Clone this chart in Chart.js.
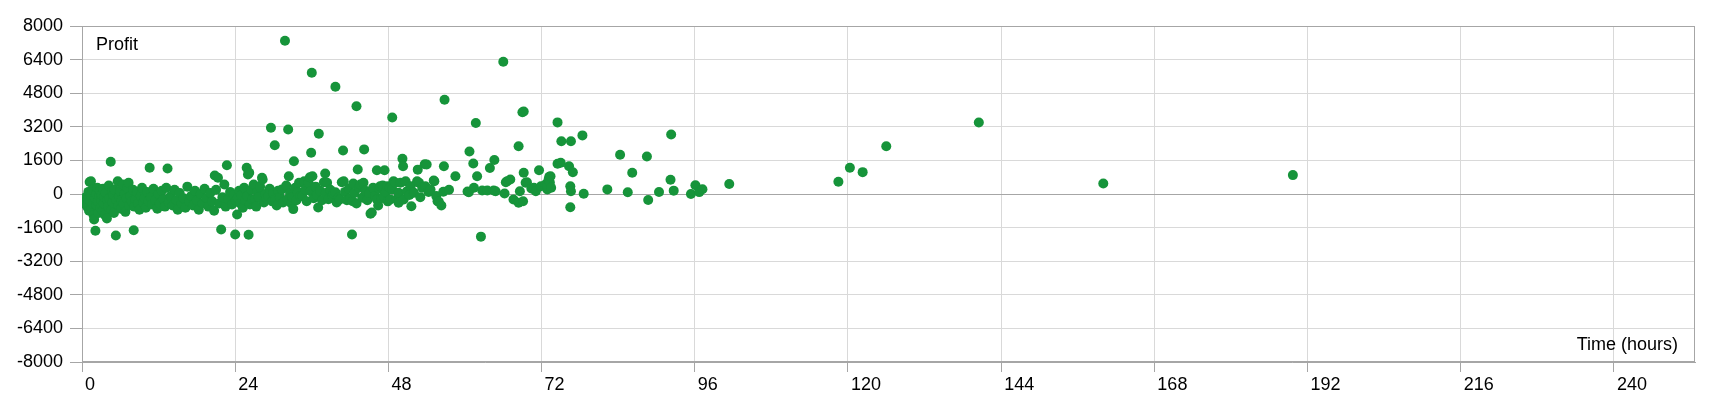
<!DOCTYPE html>
<html>
<head>
<meta charset="utf-8">
<script src="https://cdn.jsdelivr.net/npm/chart.js@4.4.0/dist/chart.umd.min.js"></script>
<style>
  html, body { margin: 0; padding: 0; background: #fff; }
  canvas { display: block; }
</style>
</head>
<body>
<canvas id="profit-chart" width="1720" height="400"></canvas>
<script>
// trades as [time in hours, profit], grouped by day
const day1 = [
  [0.2,-300],[0.4,-450],[0.5,-390],[0.6,-150],[0.8,-600],[0.9,-250],[1.0,100],[1.1,-800],[1.2,572],[1.3,-350],
  [1.4,-50],[1.4,610],[1.5,-700],[1.6,200],[1.7,-480],[1.8,-1000],[1.9,-1214],[2.0,-200],[2.1,-1750],[2.2,0],
  [2.3,-550],[2.4,300],[2.5,-350],[2.6,-900],[2.7,-100],[2.8,150],[2.9,-650],[3.0,-300],[3.1,-50],[3.2,-800],
  [3.3,250],[3.4,-450],[3.5,-150],[3.6,-1000],[3.7,50],[3.9,-1170],[4.0,-300],[4.1,-600],[4.2,400],[4.3,-200],
  [4.5,1532],[4.6,-750],[4.7,100],[4.8,-400],[4.9,-50],[5.0,-900],[5.1,200],[5.3,-1975],[5.4,-300],[5.6,610],
  [5.7,-550],[5.8,-100],[6.0,150],[6.1,-700],[6.2,-300],[6.4,450],[6.5,-450],[6.7,0],[6.8,-850],[7.0,-200],
  [7.1,300],[7.3,533],[7.4,-550],[7.6,-100],[7.8,-350],[8.0,200],[8.1,-1723],[8.2,-600],[8.4,-250],[8.6,100],
  [8.8,-450],[9.0,-750],[9.2,-100],[9.4,300],[9.6,-400],[9.8,-200],[10.0,-650],[10.2,100],[10.4,-350],[10.6,1247],
  [10.8,-150],[11.0,-500],[11.2,250],[11.5,-300],[11.8,-700],[12.0,0],[12.2,-450],[12.5,150],[12.8,-250],[13.0,-600],
  [13.2,300],[13.4,1214],[13.6,-400],[13.9,-100],[14.2,-550],[14.5,200],[14.8,-300],[15.0,-750],[15.3,50],[15.6,-450],
  [15.9,-200],[16.2,-650],[16.5,350],[16.8,-350],[17.1,-100],[17.4,-550],[17.7,150],[18.0,-300],[18.3,-750],[18.6,0],
  [18.9,-450],[19.2,250],[19.5,-200],[19.8,-600],[20.1,50],[20.4,-350],[20.7,-800],[20.8,881],[21.0,200],[21.3,771],
  [21.5,-450],[21.8,-1690],[22.0,-150],[22.3,450],[22.5,-600],[22.7,1371],[22.9,-250],[23.2,100],[23.5,-500],[23.8,-50]
];

const day2 = [
  [24.0,-1928],[24.1,-300],[24.3,-976],[24.4,-200],[24.6,150],[24.8,-450],[25.0,-50],[25.2,-650],[25.4,300],[25.6,-300],
  [25.8,1247],[25.9,-100],[26.0,930],[26.1,-1943],[26.2,1009],[26.3,-500],[26.5,200],[26.7,-250],[26.9,450],[27.1,-262],
  [27.3,-600],[27.5,100],[27.7,-150],[27.9,350],[28.2,771],[28.3,690],[28.5,-400],[28.7,0],[28.9,-200],[29.2,-105],
  [29.4,250],[29.6,3151],[29.8,-350],[30.0,50],[30.2,2323],[30.3,-262],[30.5,-550],[30.7,150],[31.0,-150],[31.3,214],
  [31.5,-400],[31.8,7300],[32.0,400],[32.2,-250],[32.3,3070],[32.4,848],[32.6,50],[32.8,-450],[33.0,-150],[33.1,-720],
  [33.2,1561],[33.4,300],[33.6,-300],[33.8,100],[34.0,533],[34.2,-100],[34.5,-105],[34.8,610],[35.0,200],[35.2,-343],
  [35.5,533],[35.7,800],[35.8,133],[35.9,1961],[36.0,5772],[36.1,848],[36.3,-200],[36.6,350],[36.8,-50],[37.0,-640],
  [37.1,2870],[37.3,150],[37.6,-300],[37.9,562],[38.1,976],[38.2,50],[38.4,533],[38.6,-250],[38.9,200],[39.2,-100],
  [39.4,24],[39.7,5104],[39.7,86],[39.9,-400],[40.2,-181],[40.4,-262],[40.7,562],[40.9,2071],[41.0,610],[41.2,100],
  [41.5,-300],[41.8,250],[42.0,-200],[42.3,-1928],[42.4,-343],[42.5,500],[42.7,50],[43.0,4182],[43.0,-450],[43.2,1166],
  [43.4,295],[43.6,452],[43.9,-181],[44.1,533],[44.2,2124],[44.4,150],[44.7,-300],[45.0,50],[45.2,-938],[45.4,-880],
  [45.6,300],[45.9,-100],[46.2,1133],[46.2,-262],[46.4,-550],[46.6,250],[46.7,371],[46.9,-200],[47.1,400],[47.3,-105],
  [47.4,1133],[47.6,100],[47.8,371],[47.9,-350]
];

const day3 = [
  [48.2,300],[48.3,-262],[48.6,214],[48.6,3641],[48.8,610],[49.1,533],[49.3,-250],[49.6,57],[49.6,-419],[49.9,533],
  [50.2,1675],[50.3,1325],[50.4,-262],[50.7,610],[50.9,133],[51.3,-50],[51.5,371],[51.6,-581],[52.0,57],[52.5,610],
  [52.6,1160],[52.8,533],[53.0,-150],[53.3,300],[53.7,1415],[53.8,371],[54.0,1404],[54.3,100],[54.6,214],[55.1,643],
  [55.2,610],[55.5,-100],[55.7,-343],[55.9,-371],[56.3,-548],[56.6,105],[56.7,1320],[56.8,4484],[57.5,200],[58.5,845],
  [60.4,120],[60.6,86],[60.7,2023],[61.3,1450],[61.4,295],[61.7,3380],[61.9,845],[62.5,-2030],[62.7,167],[63.5,167],
  [63.9,1240],[64.5,167],[64.6,1620],[64.8,133],[66.0,6296],[66.2,24],[66.4,562],[66.6,610],[67.1,690],[67.6,-262],
  [68.4,2270],[68.4,-419],[68.6,133],[69.0,3896],[69.2,3930],[69.1,-343],[69.2,1009],[69.5,533],[69.7,562],[70.4,262],
  [70.8,295],[71.1,133],[71.6,1133],[71.9,371]
];

const day4 = [
  [72.6,452],[72.9,214],[72.9,371],[73.1,690],[73.2,819],[73.3,550],[73.4,848],[73.5,300],[74.5,3410],[74.5,1437],
  [75.0,1485],[75.1,2513],[76.6,2513],[76.3,1323],[76.9,1038],[76.5,371],[76.6,133],[76.5,-628],[78.4,2790],[78.6,10],
  [82.3,220],[84.3,1866],[85.5,86],[86.2,1009],[88.5,1785],[88.7,-285],[90.4,95],[92.2,676],[92.3,2832],[92.7,160],
  [95.4,0],[96.1,419],[96.7,90],[97.2,228]
];

const later = [
  [101.4,480],[118.5,584],[120.3,1250],[122.3,1040],[126.0,2275],[140.5,3403],[160.0,500],[189.7,900]
];

const xMin = 0, xMax = 252.7, xStep = 24;
const yMin = -8000, yMax = 8000, yStep = 1600;

const green = '#16943a';
const frameGrey = '#a6a6a6';
const gridGrey = '#d9d9d9';
const fontFamily = '"Liberation Sans", Arial, sans-serif';
const fontSize = 18;

const points = [...day1, ...day2, ...day3, ...day4, ...later].map(([x, y]) => ({ x, y }));

// box round the plot plus the two axis captions sitting inside it
const frameAndCaptions = {
    id: 'frameAndCaptions',
    beforeDatasetsDraw(chart) {
        const { ctx, chartArea: a } = chart;
        ctx.save();
        ctx.strokeStyle = frameGrey;
        ctx.lineWidth = 1;
        ctx.strokeRect(a.left + 0.5, a.top + 0.5, a.width - 1, a.height - 1);
        ctx.fillStyle = '#000';
        ctx.font = fontSize + 'px ' + fontFamily;
        ctx.textBaseline = 'middle';
        ctx.textAlign = 'left';
        ctx.fillText('Profit', a.left + 14, a.top + 19);
        ctx.textAlign = 'right';
        ctx.fillText('Time (hours)', a.right - 17, a.bottom - 17);
        ctx.restore();
    }
};

document.addEventListener('DOMContentLoaded', () => {
    const ctx = document.getElementById('profit-chart').getContext('2d');
    const profitChart = new Chart(ctx, {
        type: 'scatter',
        data: {
            datasets: [{
                label: 'Profit',
                data: points,
                backgroundColor: green,
                borderColor: green,
                borderWidth: 0,
                pointRadius: 5,
            }]
        },
        options: {
            responsive: false,
            animation: false,
            devicePixelRatio: 1,
            layout: { padding: { left: 0, right: 25, top: 26, bottom: 0 } },
            plugins: {
                legend: { display: false },
                tooltip: { enabled: false },
            },
            scales: {
                x: {
                    type: 'linear',
                    min: xMin,
                    max: xMax,
                    afterFit: (scale) => { scale.height = 38; },
                    border: { color: frameGrey },
                    grid: { color: gridGrey, tickColor: frameGrey, tickLength: 10 },
                    ticks: {
                        stepSize: xStep,
                        includeBounds: false,
                        align: 'start',
                        labelOffset: 3,
                        padding: 2,
                        color: '#000',
                        font: { family: fontFamily, size: fontSize },
                        maxRotation: 0,
                    },
                },
                y: {
                    min: yMin,
                    max: yMax,
                    afterFit: (scale) => { scale.width = 82; },
                    border: { color: frameGrey },
                    grid: {
                        color: (c) => (c.tick && c.tick.value === 0 ? frameGrey : gridGrey),
                        tickColor: frameGrey,
                        tickLength: 12,
                    },
                    ticks: {
                        stepSize: yStep,
                        padding: 7,
                        color: '#000',
                        font: { family: fontFamily, size: fontSize },
                        callback: (v) => String(v),
                    },
                },
            },
        },
        plugins: [frameAndCaptions],
    });
});
</script>
</body>
</html>
